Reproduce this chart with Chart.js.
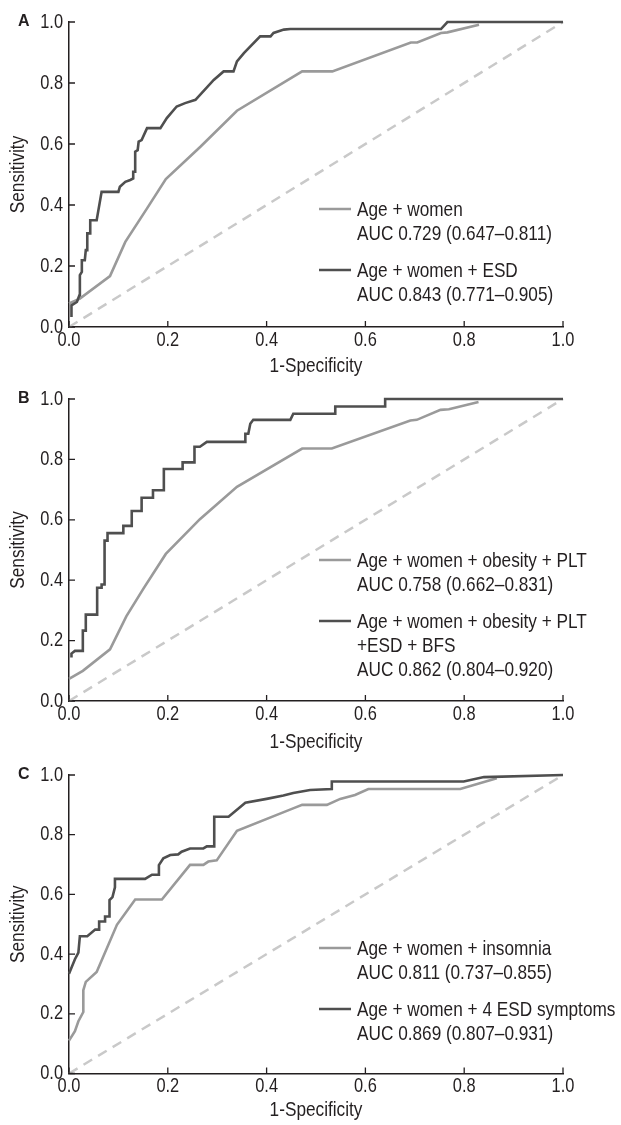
<!DOCTYPE html>
<html>
<head>
<meta charset="utf-8">
<script src="https://cdn.jsdelivr.net/npm/chart.js@4.4.0/dist/chart.umd.min.js"></script>
<style>
  html, body { margin: 0; padding: 0; background: #fff; }
  #wrap { position: relative; width: 621px; height: 1125px; }
  canvas { position: absolute; left: 0; }
</style>
</head>
<body>
<div id="wrap">
  <canvas id="cA" width="621" height="381" style="top:0px"></canvas>
  <canvas id="cB" width="621" height="376" style="top:381px"></canvas>
  <canvas id="cC" width="621" height="368" style="top:757px"></canvas>
</div>
<script>
// axis ticks (both axes)
const axisTicks = [0, 0.2, 0.4, 0.6, 0.8, 1.0];
const diagX = [0, 1];
const diagY = [0, 1];

// Panel A
const aLightX = [0, .022, .083, .114, .158, .196, .266, .340, .472, .533, .692, .705, .753, .766, .830];
const aLightY = [.077, .093, .167, .279, .389, .485, .591, .709, .838, .838, .933, .933, .964, .966, .991];
const aDarkX = [.005, .005, .016, .021, .022, .026, .026, .032, .034, .037, .037, .043, .043, .056, .066, .100, .103, .114, .124, .130, .130, .134, .134, .139, .141, .147, .158, .185, .198, .218, .235, .256, .293, .313, .333, .340, .354, .387, .408, .414, .435, .448, .753, .766, 1.0];
const aDarkY = [.033, .071, .082, .104, .170, .181, .219, .219, .252, .252, .307, .307, .350, .350, .443, .443, .460, .476, .482, .487, .509, .509, .575, .580, .608, .613, .652, .652, .685, .723, .734, .745, .810, .838, .838, .871, .898, .953, .953, .964, .975, .977, .977, 1.0, 1.0];
const aLabels = [["Age + women", "AUC 0.729 (0.647\u20130.811)"], ["Age + women + ESD", "AUC 0.843 (0.771\u20130.905)"]];

// Panel B
const bLightX = [0, .028, .083, .116, .151, .196, .265, .340, .472, .532, .691, .704, .752, .769, .829];
const bLightY = [.073, .100, .171, .280, .373, .487, .602, .709, .836, .836, .929, .931, .964, .966, .990];
const bDarkX = [.005, .005, .012, .028, .028, .034, .034, .057, .057, .066, .066, .072, .072, .078, .078, .110, .110, .127, .127, .147, .147, .170, .170, .192, .192, .230, .230, .254, .254, .265, .279, .357, .357, .363, .367, .373, .448, .454, .539, .539, .640, .640, 1.0];
const bDarkY = [.144, .157, .166, .166, .233, .233, .286, .286, .375, .375, .386, .386, .531, .531, .556, .556, .580, .580, .629, .629, .673, .673, .698, .698, .768, .768, .790, .790, .842, .842, .858, .858, .885, .885, .918, .931, .931, .951, .951, .975, .975, 1.0, 1.0];
const bLabels = [["Age + women + obesity + PLT", "AUC 0.758 (0.662\u20130.831)"], ["Age + women + obesity + PLT", "+ESD + BFS", "AUC 0.862 (0.804\u20130.920)"]];

// Panel C
const cLightX = [0, .012, .019, .029, .029, .034, .056, .097, .134, .188, .245, .272, .282, .299, .340, .455, .472, .522, .549, .579, .606, .792, .866];
const cLightY = [.110, .142, .175, .206, .279, .307, .340, .498, .583, .583, .699, .699, .710, .714, .813, .889, .900, .900, .920, .933, .953, .953, .989];
const cDarkX = [0, .012, .019, .022, .037, .053, .061, .061, .073, .073, .082, .082, .088, .093, .093, .154, .168, .182, .182, .191, .205, .221, .228, .245, .272, .279, .294, .294, .323, .357, .400, .434, .454, .488, .532, .532, .799, .840, 1.0];
const cDarkY = [.334, .383, .405, .460, .460, .482, .482, .509, .509, .526, .526, .581, .591, .624, .652, .652, .666, .666, .698, .721, .732, .734, .743, .754, .754, .761, .761, .860, .860, .907, .920, .931, .940, .950, .953, .978, .978, .993, 1.0];
const cLabels = [["Age + women + insomnia", "AUC 0.811 (0.737\u20130.855)"], ["Age + women + 4 ESD symptoms", "AUC 0.869 (0.807\u20130.931)"]];

const INK = "#231f20";
const LIGHT = "#9a9a9a";
const DARK = "#4f4f4f";
// no narrow face is installed, so text in this family is squeezed by hand
const NARROW = "'Liberation Sans Narrow', 'Liberation Sans', Arial, sans-serif";
const SQUEEZE = 0.82;

function pts(xs, ys) {
  return xs.map((x, i) => ({ x: x, y: ys[i] }));
}

function narrowText(ctx) {
  if (ctx._narrow) return;
  const orig = ctx.fillText;
  ctx.fillText = function (t, x, y, mw) {
    if (this.font.indexOf("Narrow") < 0) return orig.call(this, t, x, y, mw);
    this.save();
    this.translate(x, y);
    this.scale(SQUEEZE, 1);
    orig.call(this, t, 0, 0);
    this.restore();
  };
  ctx._narrow = true;
}

const rocPlugin = {
  id: "roc",
  beforeDraw(chart) {
    narrowText(chart.ctx);
  },
  afterDraw(chart, args, opts) {
    const ctx = chart.ctx;
    const area = chart.chartArea;
    const xs = chart.scales.x, ys = chart.scales.y;
    ctx.save();
    // inward tick marks
    ctx.strokeStyle = INK;
    ctx.lineWidth = 1.3;
    ctx.beginPath();
    axisTicks.forEach(v => {
      const px = xs.getPixelForValue(v);
      ctx.moveTo(px, area.bottom);
      ctx.lineTo(px, area.bottom - 6);
      const py = ys.getPixelForValue(v);
      ctx.moveTo(area.left, py);
      ctx.lineTo(area.left + 6, py);
    });
    ctx.stroke();
    // panel letter
    ctx.fillStyle = INK;
    ctx.font = "bold 16px 'Liberation Sans', Arial, sans-serif";
    ctx.textAlign = "left";
    ctx.textBaseline = "middle";
    ctx.fillText(opts.letter, 18, area.top);
    // legend, light curve first
    ctx.font = "21px " + NARROW;
    let y = area.top + opts.legendTop;
    chart.data.datasets.slice().reverse().forEach(ds => {
      if (!Array.isArray(ds.label)) return;
      ctx.strokeStyle = ds.borderColor;
      ctx.lineWidth = 2.5;
      ctx.beginPath();
      ctx.moveTo(319, y - 1);
      ctx.lineTo(351, y - 1);
      ctx.stroke();
      ds.label.forEach((line, i) => {
        ctx.fillText(line, 357, y + i * opts.lineGap);
      });
      y += ds.label.length * opts.lineGap + opts.entryGap;
    });
    ctx.restore();
  }
};

function makeChart(id, letter, light, dark, labels, geo) {
  const canvas = document.getElementById(id);
  return new Chart(canvas, {
    type: "scatter",
    data: {
      datasets: [
        { label: labels[1], data: pts(dark[0], dark[1]), borderColor: DARK, borderWidth: 2.6, order: 1 },
        { label: labels[0], data: pts(light[0], light[1]), borderColor: LIGHT, borderWidth: 2.6, order: 2 },
        { label: "chance", data: pts(diagX, diagY), borderColor: "#c9c9c9", borderWidth: 2.5, borderDash: [10, 7], order: 3 }
      ]
    },
    options: {
      responsive: false,
      animation: false,
      devicePixelRatio: 1,
      showLine: true,
      elements: { point: { radius: 0 }, line: { tension: 0 } },
      datasets: { scatter: { clip: 6 } },
      layout: { padding: { top: geo.padTop, right: 58, bottom: 0, left: 0 } },
      plugins: {
        legend: { display: false },
        tooltip: { enabled: false },
        roc: { letter: letter, legendTop: geo.legendTop, lineGap: 24, entryGap: 13 }
      },
      scales: {
        x: {
          type: "linear",
          min: 0, max: 1,
          afterBuildTicks: s => { s.ticks = axisTicks.map(v => ({ value: v })); },
          afterFit: s => { s.height = geo.xHeight; },
          grid: { display: false, drawTicks: false },
          border: { display: true, color: INK, width: 1.5 },
          ticks: { padding: 1, color: INK, font: { family: NARROW, size: 20, lineHeight: 1.2 }, callback: v => v.toFixed(1) },
          title: { display: true, text: "1-Specificity", color: INK, padding: { top: 0, bottom: 2 }, font: { family: NARROW, size: 21, lineHeight: 1.2 } }
        },
        y: {
          type: "linear",
          min: 0, max: 1,
          afterBuildTicks: s => { s.ticks = axisTicks.map(v => ({ value: v })); },
          afterFit: s => { s.width = 69; },
          grid: { display: false, drawTicks: false },
          border: { display: true, color: INK, width: 1.5 },
          ticks: { padding: 6, color: INK, font: { family: NARROW, size: 20, lineHeight: 1.2 }, callback: v => v.toFixed(1) },
          title: { display: true, text: "Sensitivity", color: INK, padding: { top: 6, bottom: 0 }, font: { family: NARROW, size: 21, lineHeight: 1.2 } }
        }
      }
    },
    plugins: [rocPlugin]
  });
}

makeChart("cA", "A", [aLightX, aLightY], [aDarkX, aDarkY], aLabels, { padTop: 22, xHeight: 54, legendTop: 188 });
makeChart("cB", "B", [bLightX, bLightY], [bDarkX, bDarkY], bLabels, { padTop: 14, xHeight: 56, legendTop: 162 });
makeChart("cC", "C", [cLightX, cLightY], [cDarkX, cDarkY], cLabels, { padTop: 12, xHeight: 51.5, legendTop: 174 });
</script>
</body>
</html>
